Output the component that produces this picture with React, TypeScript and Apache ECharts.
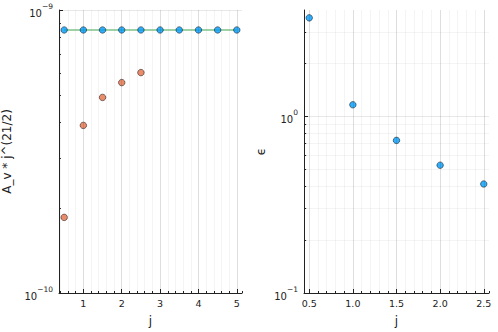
import React, { useEffect, useRef } from "react";
import * as echarts from "echarts";

// ---- data ----
const jLeft = [0.5, 1, 1.5, 2, 2.5, 3, 3.5, 4, 4.5, 5];
const levelVals = [8.5e-10, 8.5e-10, 8.5e-10, 8.5e-10, 8.5e-10, 8.5e-10, 8.5e-10, 8.5e-10, 8.5e-10, 8.5e-10];
const jOrange = [0.5, 1, 1.5, 2, 2.5];
const orangeVals = [1.85e-10, 3.91e-10, 4.91e-10, 5.54e-10, 6.01e-10];
const jRight = [0.5, 1, 1.5, 2, 2.5];
const epsVals = [3.61, 1.163, 0.731, 0.529, 0.414];

// ---- axes / ticks ----
const leftXRange = [0.365, 5.135];
const leftYRange = [1e-10, 1e-9];
const rightXRange = [0.44, 2.56];
const rightYRange = [0.1, 4];
const leftYMinor = [2e-10, 3e-10, 4e-10, 5e-10, 6e-10, 7e-10, 8e-10, 9e-10];
const rightYMinor = [0.2, 0.3, 0.4, 0.5, 0.6, 0.7, 0.8, 0.9, 2, 3];

const FONT = "DejaVu Sans";
const MAJOR = "rgba(0,0,0,0.09)";
const MINOR = "rgba(0,0,0,0.045)";
const AXIS = "#222";

const supLabel = (v: number) => {
  const l = Math.log10(v);
  const e = Math.round(l);
  if (Math.abs(l - e) > 1e-6) return "";
  const es = e < 0 ? "\u2212" + -e : String(e);
  return `{b|10}{s|${es}}`;
};
const supRich = {
  b: { fontSize: 10, fontFamily: FONT, color: "#222", lineHeight: 16, verticalAlign: "bottom" },
  s: { fontSize: 7.5, fontFamily: FONT, color: "#222", lineHeight: 9, verticalAlign: "top" },
};

export default function App() {
  const ref = useRef<HTMLDivElement>(null);
  useEffect(() => {
    if (!ref.current) return;
    const chart = echarts.init(ref.current, null, { renderer: "svg" });

    const majorX = (gi: number, min: number, max: number, step: number, split: number, fmt: (v: number) => string, name: string) => ({
      gridIndex: gi,
      type: "value",
      position: "bottom",
      min,
      max,
      splitNumber: split,
      minInterval: step,
      maxInterval: step,
      name,
      nameLocation: "middle",
      nameGap: 22,
      nameTextStyle: { fontFamily: FONT, fontSize: 12, color: "#222" },
      axisLine: { show: true, onZero: false, lineStyle: { color: AXIS, width: 1 } },
      axisTick: { show: true, inside: true, length: 4, lineStyle: { color: AXIS } },
      axisLabel: {
        fontFamily: FONT,
        fontSize: 9.5,
        color: "#222",
        margin: 5,
        showMinLabel: false,
        showMaxLabel: false,
        formatter: fmt,
      },
      splitLine: { show: true, showMinLine: false, showMaxLine: false, lineStyle: { color: MAJOR, width: 1 } },
      z: 5,
    });
    const minorX = (gi: number, min: number, max: number, step: number, split: number) => ({
      gridIndex: gi,
      type: "value",
      position: "bottom",
      offset: 0,
      min,
      max,
      splitNumber: split,
      minInterval: step,
      maxInterval: step,
      axisLine: { show: false, onZero: false },
      axisTick: { show: true, inside: true, length: 2, lineStyle: { color: AXIS } },
      axisLabel: { show: false },
      splitLine: { show: true, showMinLine: false, showMaxLine: false, lineStyle: { color: MINOR, width: 1 } },
    });
    const logY = (gi: number, min: number, max: number, name: string, gap: number) => ({
      gridIndex: gi,
      type: "log",
      logBase: 10,
      min,
      max,
      interval: 1,
      name,
      nameLocation: "middle",
      nameGap: gap,
      nameTextStyle: { fontFamily: FONT, fontSize: 12, color: "#222" },
      axisLine: { show: true, onZero: false, lineStyle: { color: AXIS, width: 1 } },
      axisTick: { show: true, inside: true, length: 4, lineStyle: { color: AXIS } },
      axisLabel: { margin: 6, formatter: supLabel, rich: supRich, showMaxLabel: false },
      splitLine: { show: true, showMinLine: false, showMaxLine: false, lineStyle: { color: MAJOR, width: 1 } },
    });

    const minorYMarks = (vals: number[], xMin: number, tickLen: number) => ({
      silent: true,
      symbol: "none",
      label: { show: false },
      animation: false,
      data: [
        ...vals.map((v) => ({ yAxis: v, lineStyle: { color: MINOR, width: 1, type: "solid" } })),
        ...vals.map((v) => [
          { coord: [xMin, v], lineStyle: { color: AXIS, width: 1, type: "solid" } },
          { coord: [xMin + tickLen, v] },
        ]),
      ],
    });

    const marker = (color: string) => ({
      color,
      borderColor: "#000",
      borderWidth: 0.6,
    });

    chart.setOption({
      animation: false,
      grid: [
        { left: 57.5, top: 10, width: 184.5, height: 285 },
        { left: 304, top: 10, width: 185, height: 285 },
      ],
      xAxis: [
        majorX(0, leftXRange[0], leftXRange[1], 1, 5, (v: number) => String(Math.round(v)), "j"),
        majorX(1, rightXRange[0], rightXRange[1], 0.5, 4, (v: number) => v.toFixed(1), "j"),
        minorX(0, leftXRange[0], leftXRange[1], 0.2, 24),
        minorX(1, rightXRange[0], rightXRange[1], 0.1, 21),
      ],
      yAxis: [
        logY(0, leftYRange[0], leftYRange[1], "A_v * j^(21/2)", 46),
        logY(1, rightYRange[0], rightYRange[1], "\u03f5", 37),
      ],
      series: [
        {
          type: "line",
          xAxisIndex: 0,
          yAxisIndex: 0,
          data: jLeft.map((j, i) => [j, levelVals[i]]),
          showSymbol: false,
          symbol: "none",
          lineStyle: { color: "#3EA44E", width: 2, opacity: 0.5 },
          z: 2,
          markLine: minorYMarks(leftYMinor, leftXRange[0], 0.05),
        },
        {
          type: "scatter",
          xAxisIndex: 0,
          yAxisIndex: 0,
          data: jLeft.map((j, i) => [j, levelVals[i]]),
          symbolSize: 6.5,
          itemStyle: marker("#009AFA"),
          z: 3,
        },
        {
          type: "scatter",
          xAxisIndex: 0,
          yAxisIndex: 0,
          data: jOrange.map((j, i) => [j, orangeVals[i]]),
          symbolSize: 6.5,
          itemStyle: marker("#E36F47"),
          z: 3,
        },
        {
          type: "scatter",
          xAxisIndex: 1,
          yAxisIndex: 1,
          data: jRight.map((j, i) => [j, epsVals[i]]),
          symbolSize: 6.5,
          itemStyle: marker("#009AFA"),
          z: 3,
          markLine: minorYMarks(rightYMinor, rightXRange[0], 0.025),
        },
      ],
    });
    return () => chart.dispose();
  }, []);
  return (
    <div
      ref={ref}
      style={{ position: "absolute", left: 0, top: 0, width: 498, height: 332, background: "#fff" }}
    />
  );
}
